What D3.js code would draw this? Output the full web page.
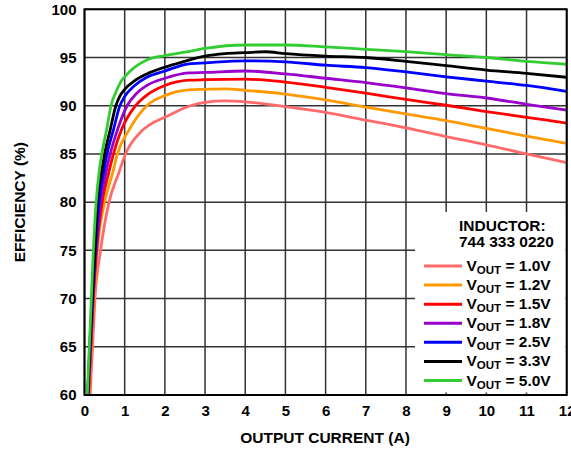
<!DOCTYPE html>
<html lang="en">
<head>
<meta charset="UTF-8">
<title>efficiency vs output current</title>
<script src="https://d3js.org/d3.v7.min.js"></script>
<style>
    body { margin: 0; background: #fff; }
    svg { display: block; font-family: "Liberation Sans", Arial, sans-serif; font-weight: bold; }
    .tick text { font-size: 15px; font-weight: bold; fill: #000; }
</style>
</head>
<body>
<script>
// tick values
const xTicks = [0, 1, 2, 3, 4, 5, 6, 7, 8, 9, 10, 11, 12];
const yTicks = [60, 65, 70, 75, 80, 85, 90, 95, 100];

// series labels / colours (legend order)
const vouts = ["1.0V", "1.2V", "1.5V", "1.8V", "2.5V", "3.3V", "5.0V"];
const colors = ["#ff6b6b", "#ff9900", "#ff0000", "#9900cc", "#0000ff", "#000000", "#33cc33"];

// [output current A, efficiency %]
const v1p0 = [[0.14,60],[0.2,65],[0.26,70],[0.4,75],[0.61,80],[0.85,83],[1.02,85],[1.38,87.2],[1.65,88.1],[2,88.8],[2.6,89.95],[3,90.35],[3.5,90.5],[4,90.4],[5,89.9],[6,89.3],[7,88.5],[8,87.7],[9,86.8],[10,85.95],[11,85.0],[12,84.1]];
const v1p2 = [[0.11,60],[0.17,65],[0.24,70],[0.32,75],[0.5,80],[0.7,83],[0.82,85],[1.11,87.5],[1.55,90],[2,91.05],[2.6,91.65],[3,91.7],[3.5,91.75],[4,91.6],[5,91.2],[6,90.6],[7,89.85],[8,89.15],[9,88.45],[10,87.65],[11,86.85],[12,86.1]];
const v1p5 = [[0.1,60],[0.16,65],[0.22,70],[0.3,75],[0.44,80],[0.6,83],[0.72,85],[0.92,87.5],[1.27,90],[1.55,91.1],[2,92.1],[2.6,92.65],[3,92.7],[4,92.75],[5,92.45],[6,91.9],[7,91.3],[8,90.65],[9,90.05],[10,89.4],[11,88.8],[12,88.2]];
const v1p8 = [[0.09,60],[0.15,65],[0.21,70],[0.29,75],[0.4,80],[0.53,83],[0.64,85],[0.82,87.5],[1.06,90],[1.3,91.3],[1.55,92.1],[2,92.85],[2.6,93.4],[3,93.45],[4,93.6],[5,93.3],[6,92.85],[7,92.4],[8,91.85],[9,91.25],[10,90.8],[11,90.15],[12,89.55]];
const v2p5 = [[0.08,60],[0.14,65],[0.2,70],[0.27,75],[0.36,80],[0.47,83],[0.56,85],[0.72,87.5],[0.88,90],[1,90.95],[1.25,92.1],[1.55,92.95],[2,93.6],[2.6,94.35],[3,94.45],[4,94.65],[5,94.55],[6,94.2],[7,93.95],[8,93.5],[9,93.0],[10,92.55],[11,92.1],[12,91.5]];
const v3p3 = [[0.08,60],[0.13,65],[0.19,70],[0.26,75],[0.32,80],[0.42,83],[0.5,85],[0.64,87.5],[0.78,90],[0.88,91],[1,91.7],[1.25,92.6],[1.55,93.3],[2,94],[2.4,94.5],[3,95.15],[3.5,95.4],[4,95.5],[4.5,95.6],[5,95.4],[6,95.15],[7,95.0],[8,94.6],[9,94.15],[10,93.7],[11,93.35],[12,92.95]];
const v5p0 = [[0.07,60],[0.12,65],[0.17,70],[0.22,75],[0.29,80],[0.36,83],[0.43,85],[0.55,87.5],[0.66,90],[0.8,91.6],[0.92,92.6],[1.0,93.0],[1.25,94.0],[1.55,94.75],[2,95.2],[2.5,95.55],[3,95.95],[4,96.3],[5,96.3],[6,96.1],[7,95.85],[8,95.6],[9,95.3],[10,95.0],[11,94.6],[12,94.3]];
const series = [v1p0, v1p2, v1p5, v1p8, v2p5, v3p3, v5p0];

const width = 571;
const height = 449;
const marginLeft = 84.5;
const marginRight = 4.3;
const marginTop = 9.3;
const marginBottom = 54;

const svg = d3.select("body").append("svg")
    .attr("width", width)
    .attr("height", height)
    .attr("viewBox", [0, 0, width, height]);

const x = d3.scaleLinear().domain([0, 12]).range([marginLeft, width - marginRight]);
const y = d3.scaleLinear().domain([60, 100]).range([height - marginBottom, marginTop]);

// grid
const grid = svg.append("g").attr("stroke", "#333").attr("stroke-width", 1.5);
grid.selectAll("line.v").data(xTicks).join("line")
    .attr("class", "v")
    .attr("x1", d => x(d)).attr("x2", d => x(d))
    .attr("y1", y(60)).attr("y2", y(100));
grid.selectAll("line.h").data(yTicks).join("line")
    .attr("class", "h")
    .attr("x1", x(0)).attr("x2", x(12))
    .attr("y1", d => y(d)).attr("y2", d => y(d));

// legend background hides the grid
const legX = 415, legY = 212;
svg.append("rect")
    .attr("x", legX).attr("y", legY)
    .attr("width", x(12) - 1 - legX)
    .attr("height", y(60) - 2.5 - legY)
    .attr("fill", "#fff");

// curves
const line = d3.line()
    .x(d => x(d[0]))
    .y(d => y(d[1]))
    .curve(d3.curveMonotoneX);

svg.append("g")
    .attr("fill", "none")
    .attr("stroke-width", 2.8)
    .attr("stroke-linejoin", "round")
    .selectAll("path")
    .data(series)
    .join("path")
    .attr("stroke", (d, i) => colors[i])
    .attr("d", line);

// frame
svg.append("rect")
    .attr("x", x(0)).attr("y", y(100))
    .attr("width", x(12) - x(0)).attr("height", y(60) - y(100))
    .attr("fill", "none").attr("stroke", "#000").attr("stroke-width", 2);

// axes
const yAxis = svg.append("g")
    .attr("transform", `translate(${x(0) - 8},0)`)
    .call(d3.axisLeft(y).tickValues(yTicks).tickSize(0).tickPadding(0));
yAxis.select(".domain").remove();

const xAxis = svg.append("g")
    .attr("transform", `translate(0,${y(60) + 4})`)
    .call(d3.axisBottom(x).tickValues(xTicks).tickSize(0).tickPadding(6));
xAxis.select(".domain").remove();

svg.append("text")
    .attr("x", 325).attr("y", 443)
    .attr("text-anchor", "middle")
    .attr("font-size", 15.5)
    .text("OUTPUT CURRENT (A)");

svg.append("text")
    .attr("transform", `translate(25,${(y(60) + y(100)) / 2}) rotate(-90)`)
    .attr("text-anchor", "middle")
    .attr("font-size", 15.5)
    .text("EFFICIENCY (%)");

// legend
const legend = svg.append("g");
legend.append("text").attr("x", 459).attr("y", 231).attr("font-size", 15.5).text("INDUCTOR:");
legend.append("text").attr("x", 459).attr("y", 247).attr("font-size", 15.5).text("744 333 0220");

const rowY = d3.scaleLinear().domain([0, 6]).range([266, 380.5]);
const rows = legend.selectAll("g.row").data(vouts).join("g")
    .attr("class", "row")
    .attr("transform", (d, i) => `translate(0,${rowY(i)})`);
rows.append("line")
    .attr("x1", 424).attr("x2", 462)
    .attr("stroke", (d, i) => colors[i])
    .attr("stroke-width", 3);
const label = rows.append("text")
    .attr("x", 466.5).attr("y", 5)
    .attr("font-size", 15.5);
label.append("tspan").text("V");
label.append("tspan").attr("font-size", 11.5).attr("dy", 3).text("OUT");
label.append("tspan").attr("dy", -3).text(d => " = " + d);
</script>
</body>
</html>
